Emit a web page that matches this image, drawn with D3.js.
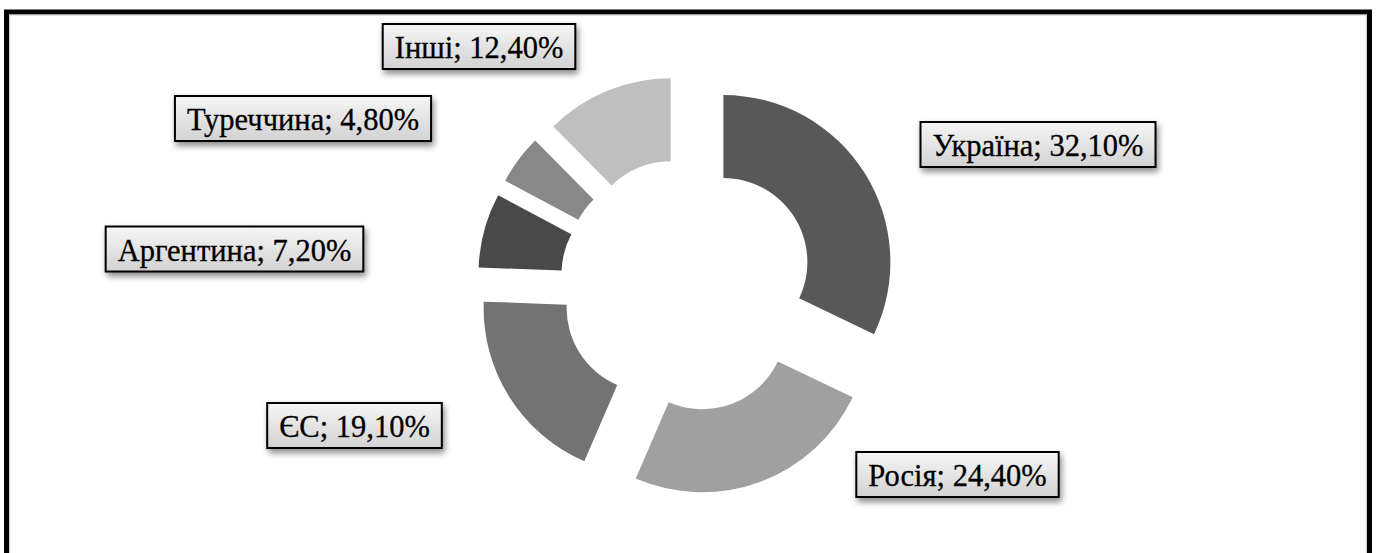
<!DOCTYPE html>
<html>
<head>
<meta charset="utf-8">
<script src="https://cdn.jsdelivr.net/npm/d3@7"></script>
<style>
html,body{margin:0;padding:0;background:#fff;overflow:hidden;}
svg{display:block;}
</style>
</head>
<body>
<svg id="chart" width="1376" height="553"></svg>
<script>
// ---- data ----
const categories = ["Україна", "Росія", "ЄС", "Аргентина", "Туреччина", "Інші"];
const values = [32.1, 24.4, 19.1, 7.2, 4.8, 12.4];
const valueLabels = ["32,10%", "24,40%", "19,10%", "7,20%", "4,80%", "12,40%"];
const colors = ["#585858", "#a0a0a0", "#737373", "#494949", "#888888", "#bfbfbf"];

// ---- layout ----
const W = 1376, H = 553;
const cx = 687, cy = 285, rOuter = 167, rInner = 84, explode = 43;
// label box centres (layout only)
const labelCenters = [[1038, 144.5], [957.5, 474.5], [354.5, 425.5], [234.5, 249], [303, 118.5], [479, 46.5]];

const svg = d3.select("#chart");

const defs = svg.append("defs");
const grad = defs.append("linearGradient").attr("id", "boxGrad")
  .attr("x1", 0).attr("y1", 0).attr("x2", 0).attr("y2", 1);
grad.append("stop").attr("offset", "0%").attr("stop-color", "#f6f6f6");
grad.append("stop").attr("offset", "100%").attr("stop-color", "#d2d2d2");
const f = defs.append("filter").attr("id", "shadow")
  .attr("x", "-20%").attr("y", "-30%").attr("width", "140%").attr("height", "180%");
f.append("feDropShadow").attr("dx", 2).attr("dy", 4).attr("stdDeviation", 3)
  .attr("flood-color", "#000").attr("flood-opacity", 0.45);

// frame
svg.append("rect").attr("x", 6.5).attr("y", 12).attr("width", 1363).attr("height", 620)
  .attr("fill", "none").attr("stroke", "#000").attr("stroke-width", 5);
svg.append("rect").attr("x", 9.5).attr("y", 15).attr("width", 1357).attr("height", 620)
  .attr("fill", "none").attr("stroke", "#c8c8c8").attr("stroke-width", 1);

const pie = d3.pie().sort(null).value(d => d).startAngle(0).endAngle(2 * Math.PI);
const arcs = pie(values);
const arc = d3.arc().innerRadius(rInner).outerRadius(rOuter);

const g = svg.append("g").attr("transform", `translate(${cx},${cy})`);
g.selectAll("path.slice").data(arcs).enter().append("path")
  .attr("class", "slice")
  .attr("d", arc)
  .attr("fill", (d, i) => colors[i])
  .attr("transform", d => {
    const a = (d.startAngle + d.endAngle) / 2;
    return `translate(${Math.sin(a) * explode},${-Math.cos(a) * explode})`;
  });

// labels
const fontSize = 30.5;
categories.forEach((c, i) => {
  const [lx, ly] = labelCenters[i];
  const lg = svg.append("g").attr("transform", `translate(${lx},${ly})`);
  const rect = lg.append("rect");
  const t = lg.append("text")
    .attr("text-anchor", "middle")
    .attr("y", 11.5)
    .attr("font-family", "'Liberation Serif', 'Times New Roman', serif")
    .attr("font-size", fontSize)
    .attr("fill", "#000")
    .attr("stroke", "#000").attr("stroke-width", 0.3)
    .text(c + "; " + valueLabels[i]);
  const tw = t.node().getComputedTextLength();
  const bw = tw + 24, bh = 45;
  rect.attr("x", -bw / 2).attr("y", -bh / 2).attr("width", bw).attr("height", bh)
    .attr("fill", "url(#boxGrad)").attr("stroke", "#000").attr("stroke-width", 2)
    .attr("filter", "url(#shadow)");
});
</script>
</body>
</html>
